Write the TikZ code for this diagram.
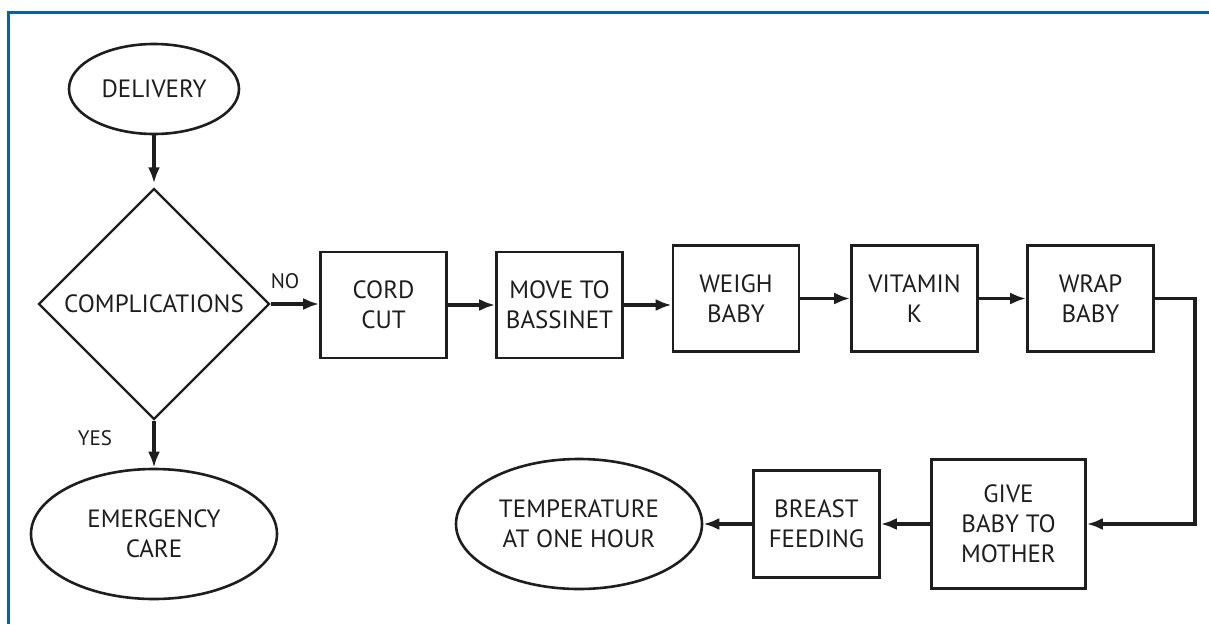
\documentclass[tikz,border=0pt]{standalone}
\usepackage{fontspec}
\setmainfont{PT Sans}
\usetikzlibrary{shapes.geometric,arrows.meta}
\definecolor{framecol}{RGB}{10,95,170}
\definecolor{ink}{RGB}{30,30,30}
\tikzset{
  lbl/.style={font=\fontsize{25}{30}\selectfont, text=ink, align=center},
  procbox/.style={lbl, draw=ink, line width=2.6pt, rectangle, inner sep=0pt},
  termnode/.style={lbl, draw=ink, line width=2.6pt, ellipse, inner sep=0pt},
  decnode/.style={lbl, draw=ink, line width=2.3pt, diamond, aspect=1, inner sep=0pt},
  flow/.style={draw=ink, line width=3.8pt, -{Latex[length=16pt,width=12pt]}},
  small/.style={font=\fontsize{21}{24}\selectfont, text=ink}
}
\begin{document}
\begin{tikzpicture}[x=1pt,y=-1pt]
\useasboundingbox (0,0) rectangle (1209,624);
\fill[white] (0,0) rectangle (1209,624);
\draw[framecol, line width=2.5pt] (8.3,624) -- (8.3,12.5) -- (1209,12.5);

\node[termnode, minimum width=170pt, minimum height=90pt] (del) at (154,89) {DELIVERY};
\node[decnode, minimum width=231pt, minimum height=231pt] (comp) at (154,304) {COMPLICATIONS};
\node[termnode, minimum width=246pt, minimum height=130pt] (emer) at (154,534) {EMERGENCY\\CARE};
\node[small] (no) at (285,281) {NO};
\node[small] (yes) at (95,438) {YES};

\node[procbox, minimum width=126pt, minimum height=106pt] (cord) at (383.5,305) {CORD\\CUT};
\node[procbox, minimum width=126pt, minimum height=106pt] (move) at (559.5,305) {MOVE TO\\BASSINET};
\node[procbox, minimum width=126pt, minimum height=106pt] (weigh) at (736,298.5) {WEIGH\\BABY};
\node[procbox, minimum width=126pt, minimum height=106pt] (vit) at (914.5,298.5) {VITAMIN\\K};
\node[procbox, minimum width=126pt, minimum height=106pt] (wrap) at (1090.5,298.5) {WRAP\\BABY};

\node[procbox, minimum width=154pt, minimum height=129pt] (give) at (1008.5,524) {GIVE\\BABY TO\\MOTHER};
\node[procbox, minimum width=126pt, minimum height=107pt] (breast) at (816.5,524) {BREAST\\FEEDING};
\node[termnode, minimum width=246pt, minimum height=130pt] (temp) at (579,524) {TEMPERATURE\\AT ONE HOUR};

\draw[flow, shorten >=4pt] (del.south) -- (comp.north);
\draw[flow] (comp.south) -- (emer.north);
\draw[flow] (comp.east) -- (comp.east -| cord.west);
\draw[flow] (cord.east) -- (move.west);
\draw[flow] (move.east) -- (move.east -| weigh.west);
\draw[flow] (weigh.east) -- (vit.west);
\draw[flow] (vit.east) -- (wrap.west);
\draw[flow, line join=miter] (wrap.east) -- ++(40,0) |- (give.east);
\draw[flow] (give.west) -- (breast.east);
\draw[flow] (breast.west) -- (temp.east);
\end{tikzpicture}
\end{document}
